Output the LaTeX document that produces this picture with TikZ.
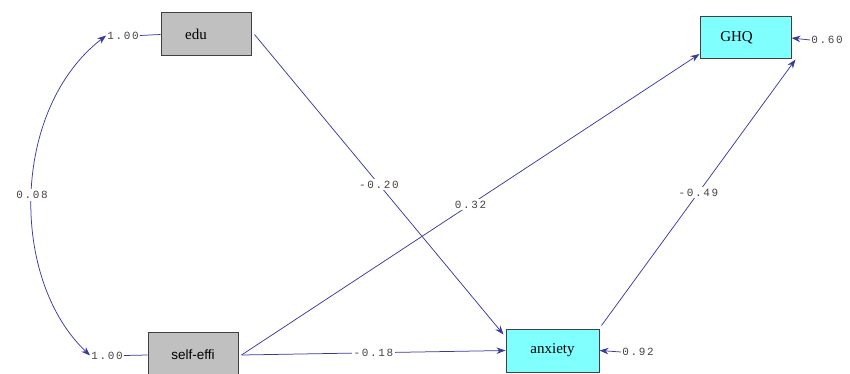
\documentclass[tikz,border=0pt]{standalone}
\usepackage{fontspec}
\setmainfont{Liberation Serif}
\setsansfont{Liberation Sans}
\newfontfamily\numfont[LetterSpace=15]{Liberation Mono}
\usetikzlibrary{arrows.meta}
\definecolor{ln}{HTML}{3A3A9E}
\definecolor{cy}{HTML}{80FFFF}
\definecolor{gr}{HTML}{C0C0C0}
\definecolor{tx}{HTML}{4A4040}
\begin{document}
\begin{tikzpicture}[x=1pt,y=-1pt,
  obs/.style={draw=black!75,line width=1pt,fill=gr,minimum width=90pt,minimum height=43pt,inner sep=0pt,font=\fontsize{15}{16}\selectfont},
  lat/.style={obs,fill=cy},
  num/.style={font=\numfont\fontsize{11}{12}\selectfont,text=tx,inner sep=1pt},
  lbl/.style={num,fill=white,inner sep=2pt},
  tip/.tip={Stealth[length=9pt,width=6.5pt]},
  path/.style={draw=ln,line width=0.75pt,-tip},
  plain/.style={draw=ln,line width=0.75pt}]
\useasboundingbox (0,0) rectangle (850,374);
\node[obs] (edu) at (206,34.5) {edu\hspace*{20pt}};
\node[obs,minimum height=45pt,font=\sffamily\fontsize{13.5}{15}\selectfont] (se) at (193,355) {self-effi};
\node[lat,minimum width=91pt,minimum height=42pt] (ghq) at (745.5,38) {GHQ\hspace*{18pt}};
\node[lat,minimum width=93pt,minimum height=43pt] (anx) at (552.5,350.5) {anxiety};
\node[num] (v1) at (123,35.5) {1.00};
\node[num] (v2) at (107,355.5) {1.00};
\node[num] (e1) at (827,40) {0.60};
\node[num] (e2) at (638,352) {0.92};
\draw[plain] (v1.east) -- (edu.west);
\draw[plain] (v2.east) -- (se.west);
\draw[ln,line width=0.75pt,tip-tip]
  (v1.west) .. controls (10,110) and (10,280) .. (v2.west)
  node[pos=0.5,lbl] {0.08};
\draw[path] ([xshift=3pt]edu.east) -- ([xshift=-2pt,yshift=-6pt]anx.north west) node[lbl,pos=0.5] {-0.20};
\draw[path] ([xshift=3pt]se.east) -- ([yshift=-16pt]ghq.west) node[lbl,pos=0.5] {0.32};
\draw[path] ([xshift=3pt]se.east) -- (anx.west) node[lbl,pos=0.5] {-0.18};
\draw[path] ([xshift=2pt,yshift=3pt]anx.north east) -- ([xshift=4pt]ghq.south east) node[lbl,pos=0.5] {-0.49};
\draw[path] (e1.west) -- (ghq.east);
\draw[path] (e2.west) -- (anx.east);
\end{tikzpicture}
\end{document}
